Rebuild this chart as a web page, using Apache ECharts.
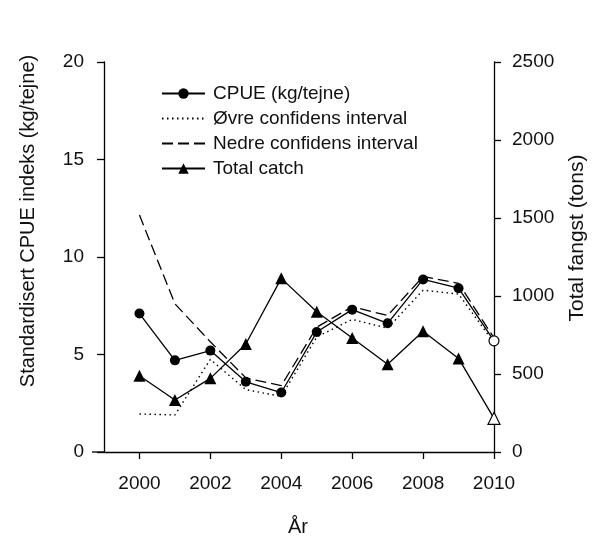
<!DOCTYPE html>
<html>
<head>
<meta charset="utf-8">
<script src="https://cdn.jsdelivr.net/npm/echarts@6/dist/echarts.min.js"></script>
<style>html,body{margin:0;padding:0;background:#fff;}#c{width:594px;height:542px;}</style>
</head>
<body>
<div id="c"></div>
<script>
const years = [2000, 2001, 2002, 2003, 2004, 2005, 2006, 2007, 2008, 2009, 2010];
const cpue = [7.1, 4.7, 5.2, 3.6, 3.05, 6.15, 7.3, 6.6, 8.85, 8.4, 5.7];
const oevre = [1.95, 1.9, 4.75, 3.2, 2.85, 5.9, 6.8, 6.35, 8.3, 8.1, 5.6];
const nedre = [12.15, 7.6, 5.65, 3.8, 3.4, 6.4, 7.45, 7.0, 9.0, 8.65, 5.85];
const totalCatch = [489, 333, 472, 692, 1113, 899, 731, 563, 774, 600, 216];
const xTicks = [2000, 2002, 2004, 2006, 2008, 2010];
const leftTitle = 'Standardisert CPUE indeks (kg/tejne)';
const rightTitle = 'Total fangst (tons)';
const xTitle = 'År';
const names = ['CPUE (kg/tejne)', 'Øvre confidens interval', 'Nedre confidens interval', 'Total catch'];

const FONT = '"Liberation Sans", Arial, sans-serif';
const black = '#000';
const plain = v => String(v);

function pairs(vals, openLast) {
  return vals.map((v, i) => {
    const d = { value: [years[i], v] };
    if (openLast && i === vals.length - 1) d.itemStyle = { color: '#fff', borderColor: black, borderWidth: 1.2 };
    return d;
  });
}

const axisLine = { show: true, lineStyle: { color: black, width: 1.3 } };
const tick = { show: true, length: 7, lineStyle: { color: black, width: 1.3 } };

const chart = echarts.init(document.getElementById('c'), null, { renderer: 'canvas' });
chart.setOption({
  animation: false,
  backgroundColor: '#fff',
  grid: { left: 104, right: 100, top: 62, bottom: 90 },
  legend: {
    orient: 'vertical', left: 156, top: 79,
    itemWidth: 43, itemHeight: 13, itemGap: 6,
    textStyle: { color: '#111', fontSize: 19, fontFamily: FONT, lineHeight: 19, padding: [0, 0, 0, 3] },
    data: [
      { name: names[0] },
      { name: names[1], itemStyle: { color: 'rgba(0,0,0,0)', borderWidth: 0 } },
      { name: names[2], itemStyle: { color: 'rgba(0,0,0,0)', borderWidth: 0 } },
      { name: names[3] }
    ]
  },
  xAxis: {
    type: 'value', min: 1999, max: 2010,
    axisLine: axisLine,
    axisTick: Object.assign({ customValues: xTicks }, tick),
    axisLabel: { color: '#111', fontSize: 19, fontFamily: FONT, margin: 22, customValues: xTicks, formatter: plain },
    splitLine: { show: false }
  },
  yAxis: [
    { type: 'value', position: 'left', min: 0, max: 20, interval: 5, axisLine: axisLine, axisTick: tick,
      axisLabel: { color: '#111', fontSize: 19, fontFamily: FONT, margin: 20, formatter: plain }, splitLine: { show: false } },
    { type: 'value', position: 'right', min: 0, max: 2500, interval: 500, axisLine: axisLine, axisTick: tick,
      axisLabel: { color: '#111', fontSize: 19, fontFamily: FONT, margin: 18, formatter: plain }, splitLine: { show: false } }
  ],
  graphic: [
    { type: 'line', shape: { x1: 92, y1: 452, x2: 104, y2: 452 }, style: { stroke: black, lineWidth: 1.3 } },
    { type: 'text', x: 28, y: 221, rotation: Math.PI / 2,
      style: { text: leftTitle, fill: '#111', font: '20px ' + FONT, align: 'center', verticalAlign: 'middle' } },
    { type: 'text', x: 577, y: 238, rotation: Math.PI / 2,
      style: { text: rightTitle, fill: '#111', font: '21px ' + FONT, align: 'center', verticalAlign: 'middle' } },
    { type: 'text', x: 298, y: 527,
      style: { text: xTitle, fill: '#111', font: '20px ' + FONT, align: 'center', verticalAlign: 'middle' } }
  ],
  series: [
    { name: names[1], type: 'line', yAxisIndex: 0, data: pairs(oevre), symbol: 'none',
      lineStyle: { color: black, width: 1.4, type: [1.5, 3.5] }, itemStyle: { color: black }, z: 2 },
    { name: names[2], type: 'line', yAxisIndex: 0, data: pairs(nedre), symbol: 'none',
      lineStyle: { color: black, width: 1.3, type: [11, 5] }, itemStyle: { color: black }, z: 2 },
    { name: names[0], type: 'line', yAxisIndex: 0, data: pairs(cpue, true), symbol: 'circle', symbolSize: 10,
      lineStyle: { color: black, width: 1.3 }, itemStyle: { color: black }, z: 3 },
    { name: names[3], type: 'line', yAxisIndex: 1, data: pairs(totalCatch, true), symbol: 'triangle', symbolSize: 12,
      lineStyle: { color: black, width: 1.3 }, itemStyle: { color: black }, z: 3 }
  ]
});
</script>
</body>
</html>
